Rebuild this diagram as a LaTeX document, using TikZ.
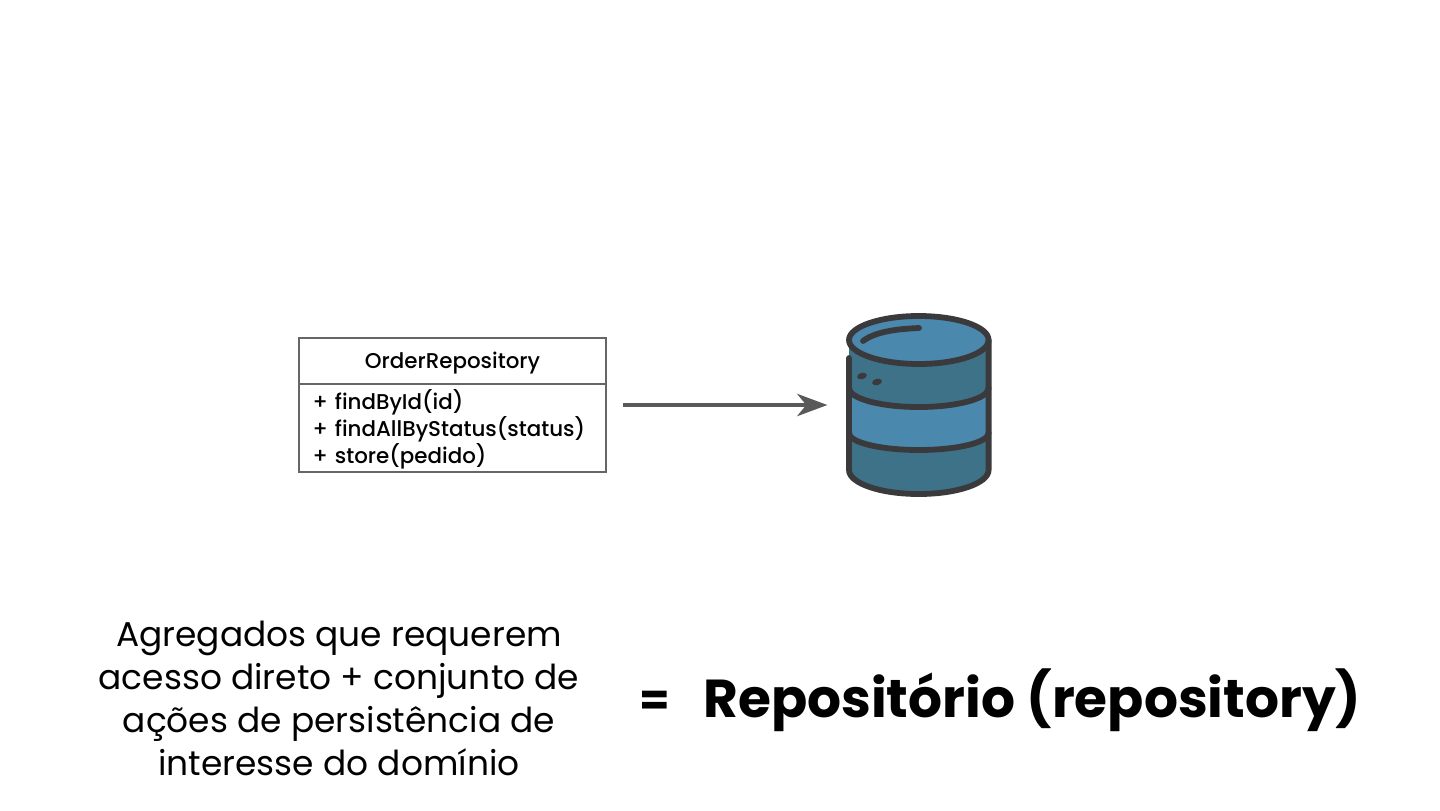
\documentclass[tikz,border=0pt]{standalone}
\usepackage{fontspec}
\setmainfont{Poppins}
\newfontfamily\medfont{Poppins Medium}
\usetikzlibrary{arrows.meta}
\usetikzlibrary{positioning}
\definecolor{boxline}{HTML}{666666}
\definecolor{arrowgray}{HTML}{595959}
\definecolor{dbstroke}{HTML}{3A3A3C}
\definecolor{dblight}{HTML}{4A88AE}
\definecolor{dbdark}{HTML}{3E7289}
\tikzset{
    umlbox/.style = {draw=boxline,line width=1pt,outer sep=0,minimum width=153.5pt,inner sep=0,font=\medfont\fontsize{10.7}{13.5}\selectfont},
    flow/.style = {draw=arrowgray,line width=2.4pt,-{Stealth[length=15pt,width=11pt,inset=4.4pt]}},
    dbline/.style = {draw=dbstroke,line width=2.9pt,line cap=round,line join=round},
    statement/.style = {align=center,font=\fontsize{17.2}{21.6}\selectfont}
}
\begin{document}
\begin{tikzpicture}[x=0.5pt,y=-0.5pt]
        \useasboundingbox (0,0) rectangle (1440,810);
        % Class box
        \node[umlbox,minimum height=23pt,text height=9.5pt,text depth=2pt] (head) at (452.5,361) {OrderRepository};
        \node[umlbox,minimum height=44pt,below=0pt of head] (methods) {};
        \node[inner sep=0,align=left,text width=140pt,font=\medfont\fontsize{10.7}{13.5}\selectfont] (methodlist) at ([yshift=-0.5pt]methods.center) {%
            + findById(id)\\+ findAllByStatus(status)\\+ store(pedido)};
        % Database
        \node[minimum width=70pt,minimum height=90pt,inner sep=0] (db) at (918.8,405) {};
        \fill[dbdark] (849,340) -- (849,470) arc[start angle=180,end angle=0,x radius=69.8,y radius=24] -- (988.6,340) -- cycle;
        \fill[dblight] (849,388) arc[start angle=180,end angle=0,x radius=69.8,y radius=19] -- (988.6,433) arc[start angle=0,end angle=180,x radius=69.8,y radius=17] -- cycle;
        \filldraw[dbline,fill=dblight] (918.8,340) ellipse[x radius=69.8,y radius=24];
        \draw[dbline] (849,358) -- (849,470) arc[start angle=180,end angle=0,x radius=69.8,y radius=24] -- (988.6,340);
        \draw[dbline] (849,388) arc[start angle=180,end angle=0,x radius=69.8,y radius=19];
        \draw[dbline] (849,433) arc[start angle=180,end angle=0,x radius=69.8,y radius=17];
        \draw[dbline] (863,341) .. controls (875,332) and (895,329) .. (919,328);
        \foreach \dotx/\doty in {862/376,877/382}
            \fill[dbstroke,rotate around={15:(\dotx,\doty)}] (\dotx,\doty) ellipse[x radius=5,y radius=3.2];
        % Arrow
        \draw[flow,shorten <=8.5pt,shorten >=10.5pt] (methods.east |- db.west) -- (db.west);
        % Bottom texts
        \node[statement] (agg) at (339,698.5) {Agregados que requerem\\acesso direto + conjunto de\\ações de persistência de\\interesse do domínio};
        \node[font=\fontsize{22}{26}\selectfont\bfseries] (eq) at (655,703) {=};
        \node[font=\fontsize{26.7}{32}\selectfont\bfseries,anchor=west,inner sep=0] (repo) at (703,700) {Repositório (repository)};
    \end{tikzpicture}
\end{document}
